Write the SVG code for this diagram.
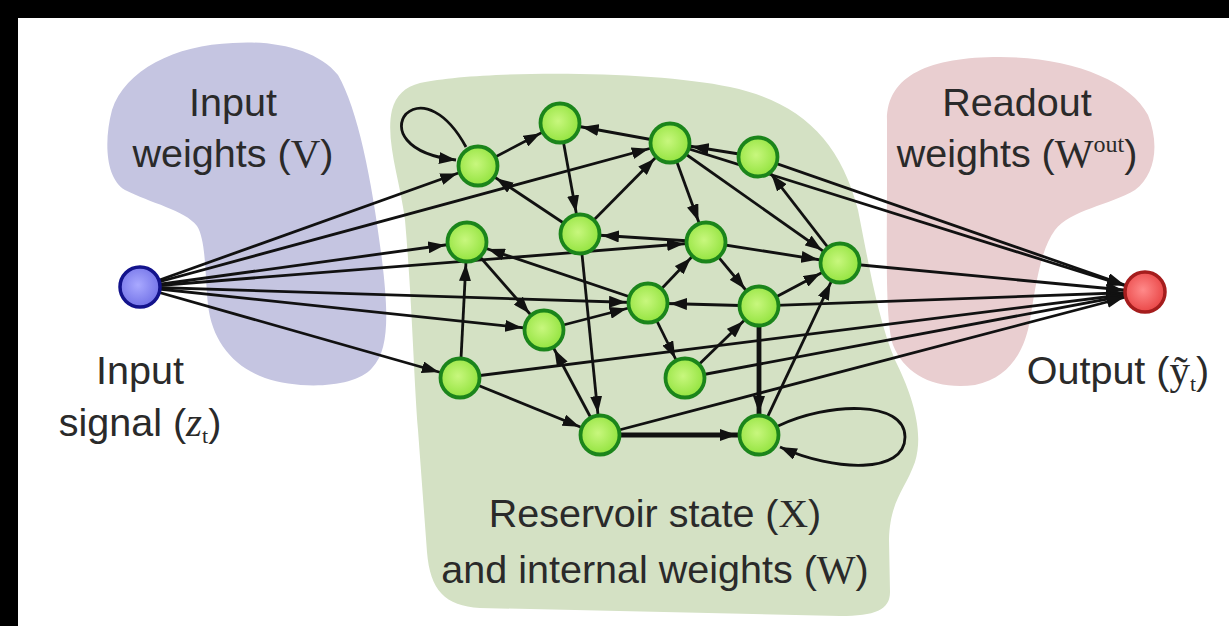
<svg xmlns="http://www.w3.org/2000/svg" width="1229" height="626" viewBox="0 0 1229 626">
<style>
  .lbl { font-family: "Liberation Sans", Arial, sans-serif; font-size: 39.5px; fill: #2a2a2a; text-anchor: middle; }
  .m { font-family: "Liberation Serif", "Times New Roman", serif; font-size: 41px; }
  .e { stroke: #111; stroke-width: 2.8; fill: none; marker-end: url(#arr); }
  .t { stroke: #111; stroke-width: 4.8; fill: none; marker-end: url(#arr); }
  .loop { stroke: #111; stroke-width: 2.8; fill: none; marker-end: url(#tip); }
  .gn { fill: url(#gg); stroke: #1b851b; stroke-width: 3.8; }
</style>
<defs>
  <radialGradient id="gg" cx="0.45" cy="0.45" r="0.6">
    <stop offset="0" stop-color="#c8f77e"/>
    <stop offset="1" stop-color="#8fe23a"/>
  </radialGradient>
  <radialGradient id="bg" cx="0.45" cy="0.45" r="0.6">
    <stop offset="0" stop-color="#a9a9ff"/>
    <stop offset="1" stop-color="#6f6fe6"/>
  </radialGradient>
  <radialGradient id="rg" cx="0.45" cy="0.45" r="0.6">
    <stop offset="0" stop-color="#ff8a8a"/>
    <stop offset="1" stop-color="#e84242"/>
  </radialGradient>
  <marker id="arr" viewBox="0 0 17 12" refX="39" refY="6" markerWidth="17" markerHeight="12" markerUnits="userSpaceOnUse" orient="auto">
    <path d="M0,0 L17,6 L0,12 z" fill="#111"/>
  </marker>
  <marker id="tip" viewBox="0 0 17 12" refX="17" refY="6" markerWidth="17" markerHeight="12" markerUnits="userSpaceOnUse" orient="auto">
    <path d="M0,0 L17,6 L0,12 z" fill="#111"/>
  </marker>
</defs>

<rect x="0" y="0" width="1229" height="626" fill="#ffffff"/>
<rect x="0" y="0" width="1229" height="18" fill="#000"/>
<rect x="0" y="0" width="18" height="626" fill="#000"/>

<g id="regions">
  <path id="input-weights-region" fill="#c5c5e1" d="M 233 43 C 275 40, 318 50, 338 75 C 358 110, 372 180, 382 260 C 388 310, 390 350, 372 368 C 355 388, 300 390, 265 378 C 232 366, 212 340, 208 305 C 205 275, 206 240, 197 226 C 185 210, 150 203, 125 190 C 105 178, 104 140, 112 110 C 125 70, 175 45, 233 43 Z"/>
  <path id="readout-region" fill="#e9ced0" d="M 1000 57 C 1070 57, 1130 80, 1148 115 C 1160 145, 1155 175, 1135 190 C 1110 205, 1070 210, 1055 230 C 1040 250, 1035 290, 1030 320 C 1025 350, 1010 378, 975 385 C 935 390, 905 375, 893 345 C 885 320, 887 250, 887 180 L 887 120 C 887 75, 930 57, 1000 57 Z"/>
  <path id="reservoir-region" fill="#d4e1c4" d="M 420 83 C 480 70, 650 70, 730 87 C 800 102, 840 140, 858 210 C 868 260, 878 320, 895 360 C 910 390, 925 430, 915 462 C 905 490, 890 500, 889 540 L 890 592 C 890 610, 875 616, 840 616 L 480 608 C 445 606, 430 590, 427 552 L 418 430 C 414 380, 412 300, 405 220 C 400 180, 385 140, 392 110 C 396 95, 405 87, 420 83 Z"/>
</g>

<g id="connectors">
  <line class="e" x1="140" y1="287" x2="478" y2="166"/>
  <line class="e" x1="140" y1="287" x2="670" y2="143"/>
  <line class="e" x1="140" y1="287" x2="467" y2="242"/>
  <line class="e" x1="140" y1="287" x2="706" y2="242"/>
  <line class="e" x1="140" y1="287" x2="648" y2="303"/>
  <line class="e" x1="140" y1="287" x2="544" y2="330"/>
  <line class="e" x1="140" y1="287" x2="460" y2="378"/>

  <line class="e" x1="670" y1="143" x2="1145" y2="292"/>
  <line class="e" x1="758" y1="157" x2="1145" y2="292"/>
  <line class="e" x1="840" y1="263" x2="1145" y2="292"/>
  <line class="e" x1="759" y1="306" x2="1145" y2="292"/>
  <line class="e" x1="460" y1="378" x2="1145" y2="292"/>
  <line class="e" x1="685" y1="378" x2="1145" y2="292"/>
  <line class="e" x1="600" y1="435" x2="1145" y2="292"/>

  <line class="e" x1="478" y1="166" x2="560" y2="123"/>
  <line class="e" x1="670" y1="143" x2="560" y2="123"/>
  <line class="e" x1="560" y1="123" x2="580" y2="234"/>
  <line class="e" x1="580" y1="234" x2="670" y2="143"/>
  <line class="e" x1="580" y1="234" x2="478" y2="166"/>
  <line class="e" x1="758" y1="157" x2="670" y2="143"/>
  <line class="e" x1="670" y1="143" x2="706" y2="242"/>
  <line class="e" x1="670" y1="143" x2="840" y2="263"/>
  <line class="e" x1="840" y1="263" x2="758" y2="157"/>
  <line class="e" x1="706" y1="242" x2="580" y2="234"/>
  <line class="e" x1="706" y1="242" x2="840" y2="263"/>
  <line class="e" x1="706" y1="242" x2="759" y2="306"/>
  <line class="e" x1="648" y1="303" x2="706" y2="242"/>
  <line class="e" x1="759" y1="306" x2="648" y2="303"/>
  <line class="e" x1="759" y1="306" x2="840" y2="263"/>
  <line class="e" x1="467" y1="242" x2="544" y2="330"/>
  <line class="e" x1="648" y1="303" x2="467" y2="242"/>
  <line class="e" x1="580" y1="234" x2="600" y2="435"/>
  <line class="e" x1="460" y1="378" x2="467" y2="242"/>
  <line class="e" x1="544" y1="330" x2="648" y2="303"/>
  <line class="e" x1="600" y1="435" x2="544" y2="330"/>
  <line class="e" x1="460" y1="378" x2="600" y2="435"/>
  <line class="e" x1="648" y1="303" x2="685" y2="378"/>
  <line class="e" x1="685" y1="378" x2="759" y2="306"/>
  <line class="e" x1="759" y1="435" x2="840" y2="263"/>

  <line class="t" x1="759" y1="306" x2="759" y2="435"/>
  <line class="t" x1="600" y1="435" x2="759" y2="435"/>

  <path class="loop" d="M 466 147 C 447 112, 422 100, 406 114 C 394 128, 404 154, 456 160"/>
  <path class="loop" d="M 778 426 C 828 402, 905 400, 905 437 C 905 474, 835 472, 780 447"/>
</g>

<g id="node-input"><circle cx="140" cy="287" r="20" fill="url(#bg)" stroke="#13138c" stroke-width="3.5"/></g>
<g id="node-output"><circle cx="1145" cy="292" r="20" fill="url(#rg)" stroke="#a51d1d" stroke-width="3.5"/></g>
<g id="node-a"><circle class="gn" cx="478" cy="166" r="19.5"/></g>
<g id="node-b"><circle class="gn" cx="560" cy="123" r="19.5"/></g>
<g id="node-c"><circle class="gn" cx="670" cy="143" r="19.5"/></g>
<g id="node-d"><circle class="gn" cx="758" cy="157" r="19.5"/></g>
<g id="node-e"><circle class="gn" cx="467" cy="242" r="19.5"/></g>
<g id="node-f"><circle class="gn" cx="580" cy="234" r="19.5"/></g>
<g id="node-g"><circle class="gn" cx="706" cy="242" r="19.5"/></g>
<g id="node-h"><circle class="gn" cx="840" cy="263" r="19.5"/></g>
<g id="node-i"><circle class="gn" cx="648" cy="303" r="19.5"/></g>
<g id="node-j"><circle class="gn" cx="759" cy="306" r="19.5"/></g>
<g id="node-k"><circle class="gn" cx="544" cy="330" r="19.5"/></g>
<g id="node-l"><circle class="gn" cx="685" cy="378" r="19.5"/></g>
<g id="node-m"><circle class="gn" cx="460" cy="378" r="19.5"/></g>
<g id="node-n"><circle class="gn" cx="600" cy="435" r="19.5"/></g>
<g id="node-o"><circle class="gn" cx="759" cy="435" r="19.5"/></g>

<g id="labels">
  <text class="lbl" x="233" y="116">Input</text>
  <text class="lbl" x="233" y="167">weights (<tspan class="m">V</tspan>)</text>
  <text class="lbl" x="1017" y="116">Readout</text>
  <text class="lbl" x="1017" y="167">weights (<tspan class="m">W</tspan><tspan class="m" style="font-size:24px" dy="-15">out</tspan><tspan dy="15">)</tspan></text>
  <text class="lbl" x="140" y="384">Input</text>
  <text class="lbl" x="140" y="436">signal (<tspan class="m" font-style="italic">z</tspan><tspan class="m" style="font-size:22px" dy="7">t</tspan><tspan dy="-7">)</tspan></text>
  <text class="lbl" x="1118" y="384">Output (<tspan class="m">ỹ</tspan><tspan class="m" style="font-size:22px" dy="7">t</tspan><tspan dy="-7">)</tspan></text>
  <text class="lbl" x="655" y="527">Reservoir state (<tspan class="m">X</tspan>)</text>
  <text class="lbl" x="655" y="583">and internal weights (<tspan class="m">W</tspan>)</text>
</g>
</svg>
